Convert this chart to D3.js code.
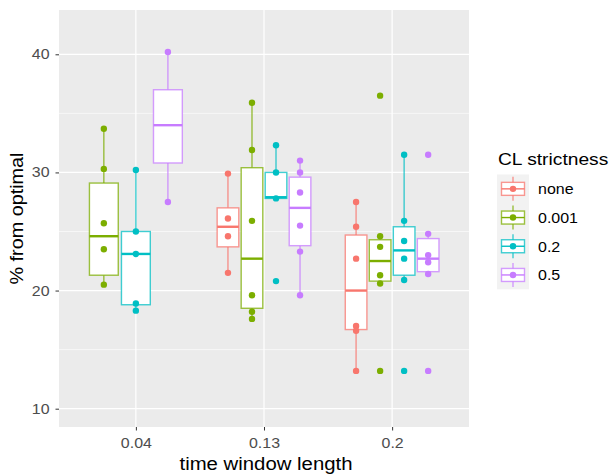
<!DOCTYPE html>
<html>
<head>
<meta charset="utf-8">
<script src="https://cdn.jsdelivr.net/npm/d3@7"></script>
<style>
  body { margin: 0; background: #fff; }
  svg { display: block; font-family: "Liberation Sans", Arial, sans-serif; }
</style>
</head>
<body>
<svg id="chart" width="614" height="474"></svg>
<script>
// ---------------- data ----------------
const categories = ["0.04", "0.13", "0.2"];
const groups = ["none", "0.001", "0.2", "0.5"];
const groupColors = ["#F8766D", "#7CAE00", "#00BFC4", "#C77CFF"];
const yTicks = [10, 20, 30, 40];

// box summaries (one entry per box)
const boxCategory = ["0.04", "0.04", "0.04", "0.13", "0.13", "0.13", "0.13", "0.2", "0.2", "0.2", "0.2"];
const boxGroup    = ["0.001", "0.2", "0.5", "none", "0.001", "0.2", "0.5", "none", "0.001", "0.2", "0.5"];
const boxLower    = [20.5, 18.3, 27.5, 21.5, 17.6, 27.8, 19.6, 13.2, 20.6, 20.9, 21.4];
const boxQ1       = [21.3, 18.8, 30.8, 23.7, 18.5, 27.8, 23.8, 16.7, 20.8, 21.3, 21.6];
const boxMedian   = [24.6, 23.1, 34.0, 25.4, 22.7, 27.9, 27.0, 20.0, 22.5, 23.4, 22.7];
const boxQ3       = [29.1, 25.0, 37.0, 27.0, 30.4, 30.0, 29.6, 24.7, 24.3, 25.4, 24.4];
const boxUpper    = [33.7, 30.2, 40.2, 29.9, 35.9, 32.3, 30.9, 27.5, 24.6, 31.5, 24.8];

// individual observations
const pointCategory = [
  "0.04","0.04","0.04","0.04","0.04",
  "0.04","0.04","0.04","0.04","0.04",
  "0.04","0.04",
  "0.13","0.13","0.13","0.13",
  "0.13","0.13","0.13","0.13","0.13","0.13",
  "0.13","0.13","0.13","0.13",
  "0.13","0.13","0.13","0.13","0.13","0.13",
  "0.2","0.2","0.2","0.2","0.2","0.2",
  "0.2","0.2","0.2","0.2","0.2","0.2",
  "0.2","0.2","0.2","0.2","0.2","0.2",
  "0.2","0.2","0.2","0.2","0.2","0.2"
];
const pointGroup = [
  "0.001","0.001","0.001","0.001","0.001",
  "0.2","0.2","0.2","0.2","0.2",
  "0.5","0.5",
  "none","none","none","none",
  "0.001","0.001","0.001","0.001","0.001","0.001",
  "0.2","0.2","0.2","0.2",
  "0.5","0.5","0.5","0.5","0.5","0.5",
  "none","none","none","none","none","none",
  "0.001","0.001","0.001","0.001","0.001","0.001",
  "0.2","0.2","0.2","0.2","0.2","0.2",
  "0.5","0.5","0.5","0.5","0.5","0.5"
];
const pointValue = [
  33.7, 30.3, 25.7, 23.5, 20.5,
  30.2, 25.0, 23.1, 18.9, 18.3,
  40.2, 27.5,
  29.9, 26.1, 24.6, 21.5,
  35.9, 31.9, 25.9, 19.6, 18.2, 17.6,
  32.3, 30.0, 27.8, 20.8,
  31.0, 30.0, 28.3, 25.5, 23.3, 19.6,
  27.5, 25.4, 22.7, 17.0, 16.6, 13.2,
  36.5, 24.6, 23.7, 21.3, 20.6, 13.2,
  31.5, 25.9, 24.2, 22.7, 20.9, 13.2,
  31.5, 24.8, 23.0, 22.4, 21.4, 13.2
];

// ---------------- layout ----------------
const svg = d3.select("#chart");
const panel = { left: 59, top: 10, right: 469, bottom: 427 };

const x = d3.scalePoint().domain(categories).range([panel.left, panel.right]).padding(0.6);
const y = d3.scaleLinear().domain([8.45, 43.75]).range([panel.bottom, panel.top]);
const color = d3.scaleOrdinal().domain(groups).range(groupColors);
const step = x.step();

// horizontally widen text to mimic the reference's wider font rendering
function stretch(sel, k) {
  sel.each(function () {
    const w = this.getComputedTextLength();
    d3.select(this).attr("textLength", w * k).attr("lengthAdjust", "spacingAndGlyphs");
  });
}

// dodge: groups present in each category
const presentByCat = {};
categories.forEach(c => {
  presentByCat[c] = groups.filter(g => boxCategory.some((bc, i) => bc === c && boxGroup[i] === g));
});
function dodgeX(cat, grp) {
  const present = presentByCat[cat];
  const n = present.length;
  const slot = 0.75 * step / n;
  const idx = present.indexOf(grp);
  return x(cat) - 0.75 * step / 2 + slot * (idx + 0.5);
}
function dodgeWidth(cat) {
  return 0.75 * step / presentByCat[cat].length * 0.9;
}

// panel background
svg.append("rect")
  .attr("x", panel.left).attr("y", panel.top)
  .attr("width", panel.right - panel.left).attr("height", panel.bottom - panel.top)
  .attr("fill", "#EBEBEB");

// minor grid
const minor = [15, 25, 35];
svg.append("g").selectAll("line").data(minor).join("line")
  .attr("x1", panel.left).attr("x2", panel.right)
  .attr("y1", d => y(d)).attr("y2", d => y(d))
  .attr("stroke", "#fff").attr("stroke-width", 0.6);
// major grid
svg.append("g").selectAll("line").data(yTicks).join("line")
  .attr("x1", panel.left).attr("x2", panel.right)
  .attr("y1", d => y(d)).attr("y2", d => y(d))
  .attr("stroke", "#fff").attr("stroke-width", 1.2);
svg.append("g").selectAll("line").data(categories).join("line")
  .attr("y1", panel.top).attr("y2", panel.bottom)
  .attr("x1", d => x(d)).attr("x2", d => x(d))
  .attr("stroke", "#fff").attr("stroke-width", 1.2);

// boxes
const boxes = boxCategory.map((c, i) => ({
  cat: c, grp: boxGroup[i], lo: boxLower[i], q1: boxQ1[i], med: boxMedian[i], q3: boxQ3[i], hi: boxUpper[i]
}));
const bg = svg.append("g").selectAll("g").data(boxes).join("g");
bg.append("line")
  .attr("x1", d => dodgeX(d.cat, d.grp)).attr("x2", d => dodgeX(d.cat, d.grp))
  .attr("y1", d => y(d.hi)).attr("y2", d => y(d.q3))
  .attr("stroke", d => color(d.grp)).attr("stroke-width", 1.4).attr("stroke-opacity", 0.75);
bg.append("line")
  .attr("x1", d => dodgeX(d.cat, d.grp)).attr("x2", d => dodgeX(d.cat, d.grp))
  .attr("y1", d => y(d.q1)).attr("y2", d => y(d.lo))
  .attr("stroke", d => color(d.grp)).attr("stroke-width", 1.4).attr("stroke-opacity", 0.75);
bg.append("rect")
  .attr("x", d => dodgeX(d.cat, d.grp) - dodgeWidth(d.cat) / 2)
  .attr("width", d => dodgeWidth(d.cat))
  .attr("y", d => y(d.q3)).attr("height", d => y(d.q1) - y(d.q3))
  .attr("fill", "#fff")
  .attr("stroke", d => color(d.grp)).attr("stroke-width", 1.4).attr("stroke-opacity", 0.75);
bg.append("line")
  .attr("x1", d => dodgeX(d.cat, d.grp) - dodgeWidth(d.cat) / 2)
  .attr("x2", d => dodgeX(d.cat, d.grp) + dodgeWidth(d.cat) / 2)
  .attr("y1", d => y(d.med)).attr("y2", d => y(d.med))
  .attr("stroke", d => color(d.grp)).attr("stroke-width", 2.4);

// points
const pts = pointValue.map((v, i) => ({ cat: pointCategory[i], grp: pointGroup[i], v }));
svg.append("g").selectAll("circle").data(pts).join("circle")
  .attr("cx", d => dodgeX(d.cat, d.grp))
  .attr("cy", d => y(d.v))
  .attr("r", 3.2)
  .attr("fill", d => color(d.grp));

// axes
const yAxis = svg.append("g")
  .attr("transform", `translate(${panel.left},0)`)
  .call(d3.axisLeft(y).tickValues(yTicks).tickSize(3.5).tickPadding(6));
const xAxis = svg.append("g")
  .attr("transform", `translate(0,${panel.bottom})`)
  .call(d3.axisBottom(x).tickSize(3.5).tickPadding(7.5));
[yAxis, xAxis].forEach(a => {
  a.select(".domain").remove();
  a.selectAll(".tick line").attr("stroke", "#333").attr("stroke-width", 1);
  a.selectAll(".tick text").attr("fill", "#4D4D4D").style("font-size", "14px")
    .style("font-family", "'Liberation Sans', Arial, sans-serif");
  stretch(a.selectAll(".tick text"), 1.14);
});

// axis titles
const xTitle = svg.append("text")
  .attr("x", 266).attr("y", 470)
  .attr("text-anchor", "middle").attr("fill", "#000")
  .style("font-size", "18px").text("time window length");
stretch(xTitle, 1.13);
const yTitle = svg.append("text")
  .attr("transform", `translate(23,${(panel.top + panel.bottom) / 2}) rotate(-90)`)
  .attr("text-anchor", "middle").attr("fill", "#000")
  .style("font-size", "18px").text("% from optimal");
stretch(yTitle, 1.1);

// legend
const legend = svg.append("g");
const lTitle = legend.append("text").attr("x", 498).attr("y", 165)
  .attr("fill", "#000").style("font-size", "17px").text("CL strictness");
stretch(lTitle, 1.13);
const keyH = 28.7, keyTop = 174.5, keyX = 497, keyW = 32;
legend.append("rect").attr("x", keyX).attr("y", keyTop)
  .attr("width", keyW).attr("height", keyH * groups.length).attr("fill", "#F2F2F2");
const keys = legend.selectAll("g.key").data(groups).join("g").attr("class", "key")
  .attr("transform", (d, i) => `translate(${keyX + keyW / 2},${keyTop + keyH * (i + 0.5)})`);
keys.append("line").attr("x1", 0).attr("x2", 0).attr("y1", -12).attr("y2", 12)
  .attr("stroke", d => color(d)).attr("stroke-width", 1.4).attr("stroke-opacity", 0.75);
keys.append("rect").attr("x", -11.5).attr("y", -6.5).attr("width", 23).attr("height", 13)
  .attr("fill", "#fff").attr("stroke", d => color(d)).attr("stroke-width", 1.4).attr("stroke-opacity", 0.75);
keys.append("line").attr("x1", -11.5).attr("x2", 11.5).attr("y1", 0).attr("y2", 0)
  .attr("stroke", d => color(d)).attr("stroke-width", 1.4);
keys.append("circle").attr("r", 3.2).attr("fill", d => color(d));
const kLabels = keys.append("text").attr("x", 25).attr("y", 5.5)
  .attr("fill", "#000").style("font-size", "15.5px").text(d => d);
stretch(kLabels, 1.03);
</script>
</body>
</html>
